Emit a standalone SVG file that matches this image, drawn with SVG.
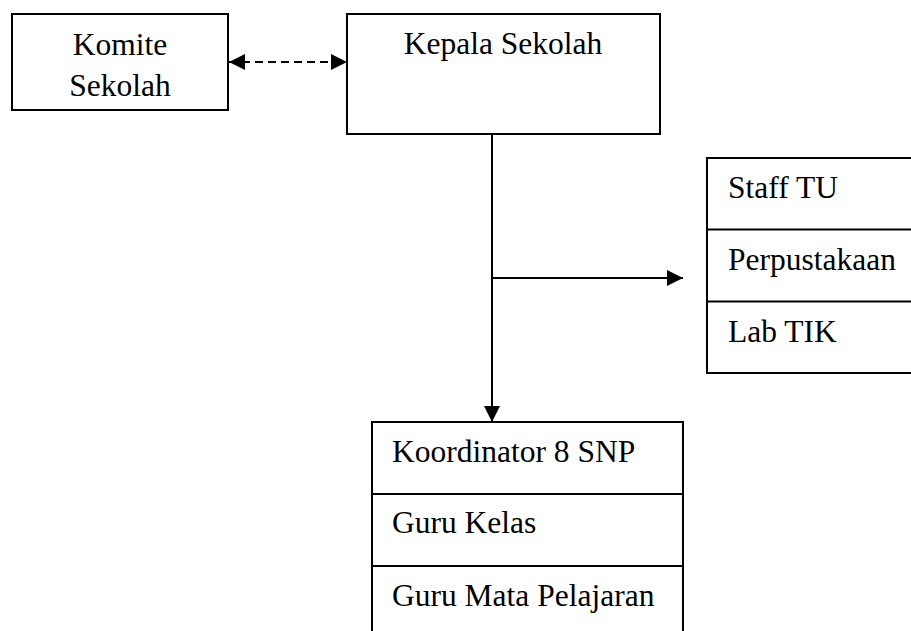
<svg xmlns="http://www.w3.org/2000/svg" width="911" height="631" viewBox="0 0 911 631">
  <style>
    .box { fill: #ffffff; stroke: #000000; stroke-width: 2; }
    .div { stroke: #000000; stroke-width: 2; fill: none; }
    .lbl { font-family: "Liberation Serif", "Times New Roman", serif; font-size: 31.5px; fill: #000000; }
    .mid { text-anchor: middle; }
    .link { stroke: #000000; stroke-width: 2; fill: none; }
    .dash { stroke-dasharray: 8 5; }
  </style>
  <defs>
    <marker id="head" viewBox="0 0 16 16" refX="16" refY="8" markerWidth="16" markerHeight="16" markerUnits="userSpaceOnUse" orient="auto-start-reverse">
      <path d="M0,0 L16,8 L0,16 Z" fill="#000000"/>
    </marker>
  </defs>
  <rect width="911" height="631" fill="#ffffff"/>

  <!-- connectors -->
  <g id="connectors">
    <line class="link dash" x1="229" y1="62" x2="347" y2="62" marker-start="url(#head)" marker-end="url(#head)"/>
    <line class="link" x1="492" y1="134" x2="492" y2="422" marker-end="url(#head)"/>
    <line class="link" x1="492" y1="278" x2="683" y2="278" marker-end="url(#head)"/>
  </g>

  <g id="komite-sekolah">
    <rect class="box" x="12" y="14" width="216" height="96"/>
    <text class="lbl mid" x="120" y="55">Komite</text>
    <text class="lbl mid" x="120" y="96">Sekolah</text>
  </g>

  <g id="kepala-sekolah">
    <rect class="box" x="347" y="14" width="313" height="120"/>
    <text class="lbl mid" x="503" y="54">Kepala Sekolah</text>
  </g>

  <g id="staf-pendukung">
    <rect class="box" x="707" y="158" width="210" height="215"/>
    <line class="div" x1="707" y1="229.5" x2="917" y2="229.5"/>
    <line class="div" x1="707" y1="301.5" x2="917" y2="301.5"/>
    <text class="lbl" x="728" y="198">Staff TU</text>
    <text class="lbl" x="728" y="270">Perpustakaan</text>
    <text class="lbl" x="728" y="342">Lab TIK</text>
  </g>

  <g id="tenaga-pendidik">
    <rect class="box" x="372" y="422" width="311" height="220"/>
    <line class="div" x1="372" y1="494" x2="683" y2="494"/>
    <line class="div" x1="372" y1="566" x2="683" y2="566"/>
    <text class="lbl" x="392" y="462">Koordinator 8 SNP</text>
    <text class="lbl" x="392" y="533">Guru Kelas</text>
    <text class="lbl" x="392" y="606">Guru Mata Pelajaran</text>
  </g>
</svg>
